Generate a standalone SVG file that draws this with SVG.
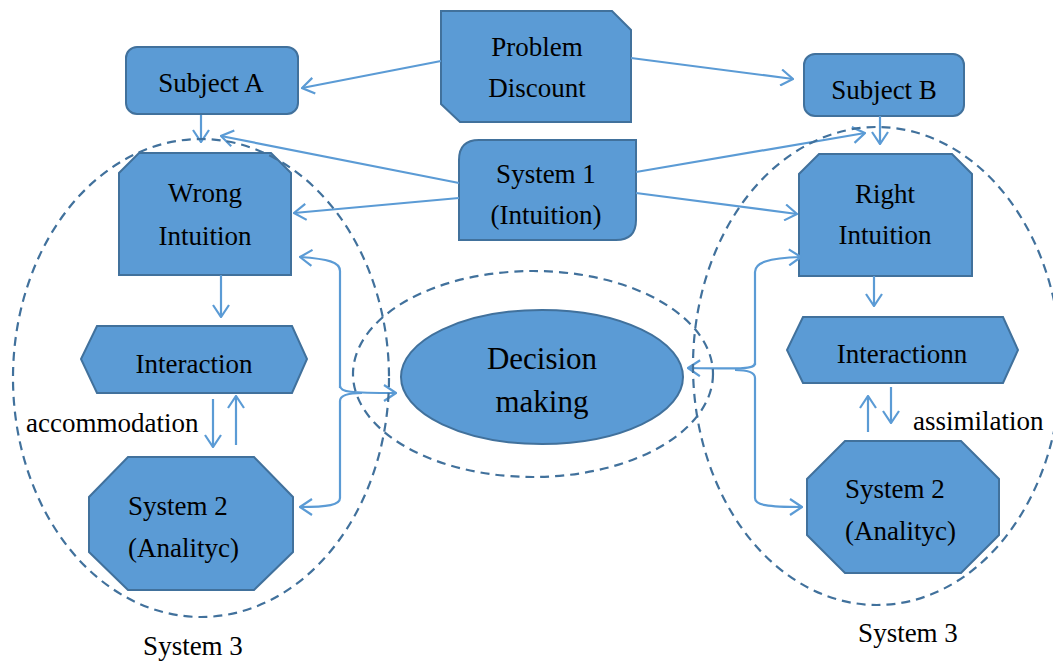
<svg xmlns="http://www.w3.org/2000/svg" width="1053" height="663" viewBox="0 0 1053 663">
<style>
.shape{fill:#5B9BD5;stroke:#41719C;stroke-width:2}
.t{font-family:"Liberation Serif","Times New Roman",serif;font-size:27px;fill:#000;text-anchor:middle}
.ts{font-family:"Liberation Serif","Times New Roman",serif;font-size:27px;fill:#000}
.big{font-size:31px}
.c{fill:none;stroke:#5B9BD5;stroke-width:2.2}
.d{fill:none;stroke:#41719C;stroke-width:2.2;stroke-dasharray:9 6}
</style>
<defs>
<marker id="ah" viewBox="0 0 14 18" refX="13" refY="9" markerWidth="14" markerHeight="18" markerUnits="userSpaceOnUse" orient="auto">
<path d="M1,1 L13,9 L1,17" fill="none" stroke="#5B9BD5" stroke-width="2.2"/>
</marker>
</defs>
<rect width="1053" height="663" fill="#fff"/>

<g id="problem-discount">
<polygon class="shape" points="441,11 612,11 631,30 631,122 460,122 441,104"/>
<text class="t" x="537" y="56">Problem</text>
<text class="t" x="537" y="97">Discount</text>
</g>
<g id="subject-a">
<rect class="shape" x="126" y="47" width="172" height="67" rx="11"/>
<text class="t" x="211" y="92">Subject A</text>
</g>
<g id="subject-b">
<rect class="shape" x="804" y="54" width="160" height="62" rx="11"/>
<text class="t" x="884" y="99">Subject B</text>
</g>
<g id="system-1">
<path class="shape" d="M479,140 L636,140 L636,220 Q636,240 616,240 L459,240 L459,160 Q459,140 479,140 Z"/>
<text class="t" x="546" y="183">System 1</text>
<text class="t" x="546" y="224">(Intuition)</text>
</g>
<g id="wrong-intuition">
<polygon class="shape" points="139,153 271,153 291,173 291,275 119,275 119,173"/>
<text class="t" x="205" y="202">Wrong</text>
<text class="t" x="205" y="245">Intuition</text>
</g>
<g id="right-intuition">
<polygon class="shape" points="819,154 952,154 972,174 972,276 799,276 799,174"/>
<text class="t" x="885" y="203">Right</text>
<text class="t" x="885" y="244">Intuition</text>
</g>
<g id="interaction-left">
<polygon class="shape" points="97,326 292,326 307,359 292,393 97,393 81,359"/>
<text class="t" x="194" y="373">Interaction</text>
</g>
<g id="interaction-right">
<polygon class="shape" points="803,317 1003,317 1018,350 1003,383 803,383 787,350"/>
<text class="t" x="902" y="363">Interactionn</text>
</g>
<g id="system-2-left">
<polygon class="shape" points="128,457 254,457 293,497 293,552 254,590 128,590 89,552 89,497"/>
<text class="ts" x="128" y="515">System 2</text>
<text class="ts" x="128" y="557">(Analityc)</text>
</g>
<g id="system-2-right">
<polygon class="shape" points="845,441 961,441 999,479 999,535 961,573 845,573 807,535 807,479"/>
<text class="ts" x="845" y="498">System 2</text>
<text class="ts" x="845" y="540">(Analityc)</text>
</g>
<g id="decision-making">
<ellipse class="shape" cx="542" cy="377" rx="141" ry="67"/>
<text class="t big" x="542" y="369">Decision</text>
<text class="t big" x="542" y="412">making</text>
</g>

<g id="connectors">
<path class="c" marker-end="url(#ah)" d="M441,61 L302,88"/>
<path class="c" marker-end="url(#ah)" d="M631,58 L793,79"/>
<path class="c" marker-end="url(#ah)" d="M201,115 L201,142"/>
<path class="c" marker-end="url(#ah)" d="M880,116 L880,144"/>
<path class="c" marker-end="url(#ah)" d="M459,183 L221,136"/>
<path class="c" marker-end="url(#ah)" d="M459,198 L294,213"/>
<path class="c" marker-end="url(#ah)" d="M636,172 L865,133"/>
<path class="c" marker-end="url(#ah)" d="M636,193 L797,214"/>
<path class="c" marker-end="url(#ah)" d="M221,275 L221,317"/>
<path class="c" marker-end="url(#ah)" d="M874,276 L874,306"/>
<path class="c" marker-end="url(#ah)" d="M213,399 L213,447"/>
<path class="c" marker-end="url(#ah)" d="M236,445 L236,396"/>
<path class="c" marker-end="url(#ah)" d="M868,432 L868,396"/>
<path class="c" marker-end="url(#ah)" d="M891,387 L891,423"/>
<path class="c" marker-end="url(#ah)" d="M340,388 L340,271 C340,262 328,259 300,257"/>
<path class="c" marker-end="url(#ah)" d="M340,386 C340,392 350,393 396,393"/>
<path class="c" marker-end="url(#ah)" d="M362,393 C349,393 340,395 340,401 L340,498 C340,505 328,507 300,507"/>
<path class="c" marker-end="url(#ah)" d="M755,365 L755,272 C755,263 767,258 801,257"/>
<path class="c" marker-end="url(#ah)" d="M755,363 C755,369 745,369 688,368"/>
<path class="c" marker-end="url(#ah)" d="M735,370 C748,370 755,372 755,378 L755,498 C755,505 767,507 802,507"/>
</g>

<g id="system-3-boundaries">
<ellipse class="d" cx="201" cy="378" rx="188" ry="239"/>
<ellipse class="d" cx="877" cy="366" rx="184" ry="239"/>
<ellipse class="d" cx="533" cy="374" rx="180" ry="103"/>
</g>

<g id="labels">
<text class="ts" x="26" y="432">accommodation</text>
<text class="ts" x="913" y="430">assimilation</text>
<text class="t" x="193" y="655">System 3</text>
<text class="t" x="908" y="642">System 3</text>
</g>
</svg>
